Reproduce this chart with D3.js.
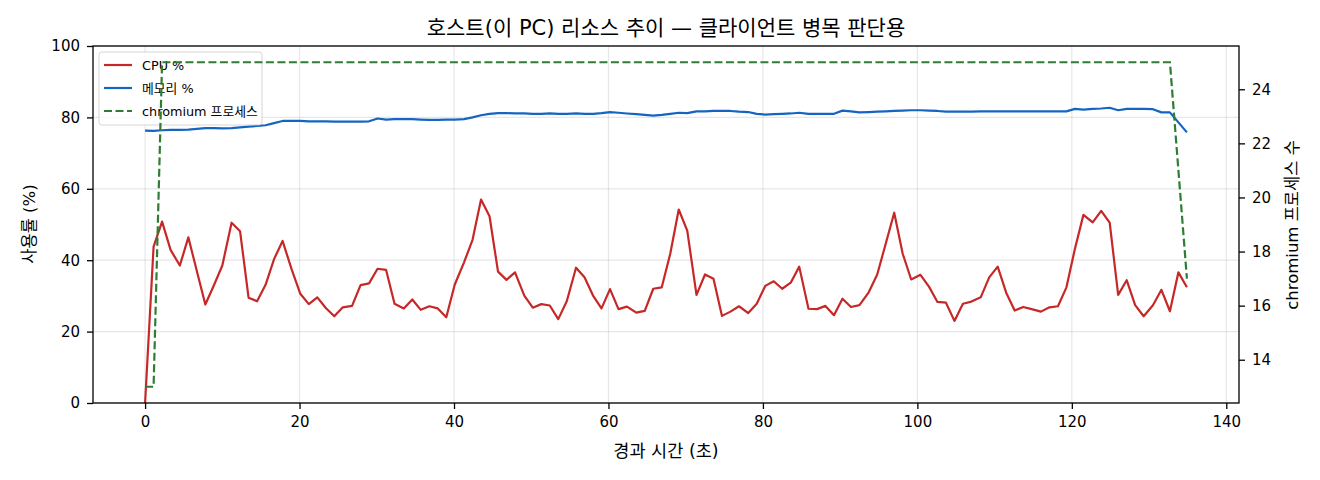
<!DOCTYPE html>
<html>
<head>
<meta charset="utf-8">
<style>
  body { margin: 0; background: #fff; }
  svg text { font-family: 'DejaVu Sans', 'Noto Sans CJK KR', sans-serif; fill: #000; }
</style>
</head>
<body>
<svg id="chart" width="1320" height="480"></svg>

<script src="https://cdn.jsdelivr.net/npm/d3@7"></script>
<script>
  // elapsed seconds of each sample
  const times = [
    0.0, 1.1, 2.2, 3.3, 4.5, 5.6, 6.7, 7.8, 8.9, 10.0,
    11.2, 12.3, 13.4, 14.5, 15.6, 16.7, 17.8, 19.0, 20.1, 21.2,
    22.3, 23.4, 24.5, 25.6, 26.8, 27.9, 29.0, 30.1, 31.2, 32.3,
    33.5, 34.6, 35.7, 36.8, 37.9, 39.0, 40.1, 41.3, 42.4, 43.5,
    44.6, 45.7, 46.8, 47.9, 49.1, 50.2, 51.3, 52.4, 53.5, 54.6,
    55.8, 56.9, 58.0, 59.1, 60.2, 61.3, 62.4, 63.6, 64.7, 65.8,
    66.9, 68.0, 69.1, 70.2, 71.4, 72.5, 73.6, 74.7, 75.8, 76.9,
    78.1, 79.2, 80.3, 81.4, 82.5, 83.6, 84.7, 85.9, 87.0, 88.1,
    89.2, 90.3, 91.4, 92.5, 93.7, 94.8, 95.9, 97.0, 98.1, 99.2,
    100.4, 101.5, 102.6, 103.7, 104.8, 105.9, 107.0, 108.2, 109.3, 110.4,
    111.5, 112.6, 113.7, 114.8, 116.0, 117.1, 118.2, 119.3, 120.4, 121.5,
    122.7, 123.8, 124.9, 126.0, 127.1, 128.2, 129.3, 130.5, 131.6, 132.7,
    133.8, 134.9
  ]

  const cpuPct = [
    0, 43.8, 50.8, 42.9, 38.5, 46.4, 37.0, 27.6, 32.9, 38.5,
    50.5, 48.1, 29.5, 28.5, 33.1, 40.3, 45.4, 37.3, 30.6, 27.7,
    29.6, 26.6, 24.3, 26.8, 27.2, 33.0, 33.5, 37.6, 37.3, 27.8,
    26.5, 29.0, 26.1, 27.1, 26.5, 24.0, 33.2, 39.4, 45.7, 57.0,
    52.3, 36.8, 34.5, 36.6, 30.1, 26.7, 27.7, 27.3, 23.5, 28.5,
    37.9, 35.2, 30.1, 26.5, 31.9, 26.3, 27.0, 25.3, 25.8, 32.0,
    32.4, 41.8, 54.2, 48.3, 30.3, 36.0, 34.8, 24.4, 25.6, 27.1,
    25.2, 27.8, 32.8, 34.1, 32.0, 33.7, 38.2, 26.4, 26.3, 27.2,
    24.6, 29.2, 26.9, 27.4, 31.0, 36.0, 44.6, 53.3, 41.8, 34.6,
    35.9, 32.6, 28.3, 28.1, 23.0, 27.8, 28.4, 29.6, 35.2, 38.2,
    30.9, 25.9, 26.9, 26.3, 25.6, 26.8, 27.1, 32.4, 43.2, 52.7,
    50.6, 53.8, 50.5, 30.3, 34.4, 27.4, 24.3, 27.4, 31.7, 25.7,
    36.6, 32.4
  ]

  const memPct = [
    76.3, 76.2, 76.4, 76.5, 76.5, 76.6, 76.8, 77.0, 77.0, 76.9,
    77.0, 77.2, 77.4, 77.6, 77.8, 78.4, 79.0, 79.0, 79.0, 78.9,
    78.9, 78.9, 78.8, 78.8, 78.8, 78.8, 78.9, 79.7, 79.4, 79.5,
    79.5, 79.5, 79.4, 79.3, 79.3, 79.4, 79.4, 79.5, 80.0, 80.6,
    81.0, 81.2, 81.2, 81.1, 81.1, 81.0, 81.0, 81.1, 81.0, 81.0,
    81.1, 81.0, 81.0, 81.2, 81.5, 81.3, 81.1, 80.9, 80.7, 80.5,
    80.7, 81.0, 81.3, 81.2, 81.7, 81.7, 81.8, 81.8, 81.8, 81.6,
    81.5, 81.0, 80.8, 80.9, 81.0, 81.1, 81.3, 81.0, 81.0, 81.0,
    81.0, 81.9, 81.7, 81.4, 81.5, 81.6, 81.7, 81.8, 81.9, 82.0,
    82.0, 81.9, 81.8, 81.6, 81.6, 81.6, 81.6, 81.7, 81.7, 81.7,
    81.7, 81.7, 81.7, 81.7, 81.7, 81.7, 81.7, 81.7, 82.4, 82.2,
    82.4, 82.5, 82.7, 82.0, 82.4, 82.4, 82.4, 82.3, 81.4, 81.4,
    78.6, 75.8
  ]

  const chromiumProcs = [
    13, 13, 25, 25, 25, 25, 25, 25, 25, 25,
    25, 25, 25, 25, 25, 25, 25, 25, 25, 25,
    25, 25, 25, 25, 25, 25, 25, 25, 25, 25,
    25, 25, 25, 25, 25, 25, 25, 25, 25, 25,
    25, 25, 25, 25, 25, 25, 25, 25, 25, 25,
    25, 25, 25, 25, 25, 25, 25, 25, 25, 25,
    25, 25, 25, 25, 25, 25, 25, 25, 25, 25,
    25, 25, 25, 25, 25, 25, 25, 25, 25, 25,
    25, 25, 25, 25, 25, 25, 25, 25, 25, 25,
    25, 25, 25, 25, 25, 25, 25, 25, 25, 25,
    25, 25, 25, 25, 25, 25, 25, 25, 25, 25,
    25, 25, 25, 25, 25, 25, 25, 25, 25, 25,
    21, 17
  ]

  const xTicks = [0, 20, 40, 60, 80, 100, 120, 140]
  const yTicks = [0, 20, 40, 60, 80, 100]
  const rTicks = [14, 16, 18, 20, 22, 24]

  const seriesNames = ['CPU %', '메모리 %', 'chromium 프로세스']

  const plotL = 93, plotR = 1239, plotT = 46, plotB = 403

  let svg = d3.select('#chart')

  let x = d3.scaleLinear().domain([-6.745, 141.645]).range([plotL, plotR])
  let yL = d3.scaleLinear().domain([0, 100]).range([plotB, plotT])
  let yR = d3.scaleLinear().domain([12.4, 25.6]).range([plotB, plotT])

  // grid
  let grid = svg.append('g')
  grid.selectAll('.gx').data(xTicks).join('line')
      .attr('x1', d => x(d)).attr('x2', d => x(d))
      .attr('y1', plotT).attr('y2', plotB)
      .attr('stroke', '#b0b0b0').attr('stroke-opacity', 0.3).attr('stroke-width', 1.2)
  grid.selectAll('.gy').data(yTicks).join('line')
      .attr('x1', plotL).attr('x2', plotR)
      .attr('y1', d => yL(d)).attr('y2', d => yL(d))
      .attr('stroke', '#b0b0b0').attr('stroke-opacity', 0.3).attr('stroke-width', 1.2)

  let rows = times.map((t, i) => ({t: t, cpu: cpuPct[i], mem: memPct[i], proc: chromiumProcs[i]}))

  let lineCpu = d3.line().x(d => x(d.t)).y(d => yL(d.cpu))
  let lineMem = d3.line().x(d => x(d.t)).y(d => yL(d.mem))
  let lineProc = d3.line().x(d => x(d.t)).y(d => yR(d.proc))

  svg.append('path').datum(rows).attr('d', lineCpu)
      .attr('fill', 'none').attr('stroke', '#c62828').attr('stroke-width', 2.2)
      .attr('stroke-linejoin', 'round')
  svg.append('path').datum(rows).attr('d', lineMem)
      .attr('fill', 'none').attr('stroke', '#1565c0').attr('stroke-width', 2.2)
      .attr('stroke-linejoin', 'round')

  // legend (sits under the right-axis line, like in the original)
  let colors = ['#c62828', '#1565c0', '#2e7d32']
  let dashes = [null, null, '8,3.5']
  let lg = svg.append('g')
  lg.append('rect')
      .attr('x', 99).attr('y', 52).attr('width', 163).attr('height', 73).attr('rx', 3)
      .attr('fill', '#fff').attr('fill-opacity', 0.8)
      .attr('stroke', '#cccccc').attr('stroke-opacity', 0.8)
  seriesNames.forEach(function (name, i) {
      let yy = 65 + i * 23
      lg.append('line')
          .attr('x1', 104).attr('x2', 132).attr('y1', yy).attr('y2', yy)
          .attr('stroke', colors[i]).attr('stroke-width', 2.2)
          .attr('stroke-dasharray', dashes[i])
      lg.append('text')
          .attr('x', 142).attr('y', yy + 4.5)
          .attr('font-size', 12.8)
          .text(name)
  })

  svg.append('path').datum(rows).attr('d', lineProc)
      .attr('fill', 'none').attr('stroke', '#2e7d32').attr('stroke-width', 2.2)
      .attr('stroke-dasharray', '8,3.5')

  // frame
  svg.append('rect')
      .attr('x', plotL).attr('y', plotT).attr('width', plotR - plotL).attr('height', plotB - plotT)
      .attr('fill', 'none').attr('stroke', '#000').attr('stroke-width', 1.3)

  // axes
  let xAxis = svg.append('g').attr('transform', 'translate(0,' + plotB + ')')
      .call(d3.axisBottom(x).tickValues(xTicks).tickSize(6).tickPadding(7).tickFormat(d3.format('d')))
  let yAxis = svg.append('g').attr('transform', 'translate(' + plotL + ',0)')
      .call(d3.axisLeft(yL).tickValues(yTicks).tickSize(6).tickPadding(7).tickFormat(d3.format('d')))
  let rAxis = svg.append('g').attr('transform', 'translate(' + plotR + ',0)')
      .call(d3.axisRight(yR).tickValues(rTicks).tickSize(6).tickPadding(7).tickFormat(d3.format('d')))

  for (let ax of [xAxis, yAxis, rAxis]) {
      ax.select('.domain').remove()
      ax.selectAll('line').attr('stroke', '#000').attr('stroke-width', 1.3)
      ax.selectAll('text').attr('font-size', 15)
      ax.attr('font-family', null).attr('font-size', null)
  }

  // titles
  svg.append('text')
      .attr('x', (plotL + plotR) / 2).attr('y', 35)
      .attr('text-anchor', 'middle').attr('font-size', 21)
      .text('호스트(이 PC) 리소스 추이 — 클라이언트 병목 판단용')
  svg.append('text')
      .attr('x', (plotL + plotR) / 2).attr('y', 457)
      .attr('text-anchor', 'middle').attr('font-size', 17.5)
      .text('경과 시간 (초)')
  svg.append('text')
      .attr('transform', 'translate(29,224) rotate(-90)')
      .attr('text-anchor', 'middle').attr('dy', '0.35em').attr('font-size', 16.5)
      .text('사용률 (%)')
  svg.append('text')
      .attr('transform', 'translate(1292,225) rotate(-90)')
      .attr('text-anchor', 'middle').attr('dy', '0.35em').attr('font-size', 16.5)
      .text('chromium 프로세스 수')
</script>
</body>
</html>
